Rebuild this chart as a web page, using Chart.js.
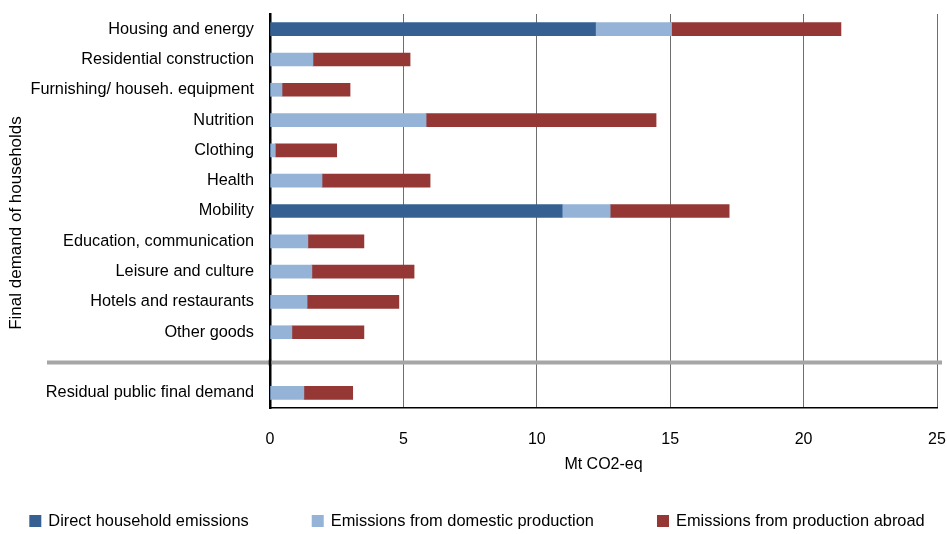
<!DOCTYPE html>
<html lang="en">

<head>
  <meta charset="UTF-8">
  <title>Emissions by final demand</title>
  <script src="https://cdn.jsdelivr.net/npm/chart.js"></script>
  <style>
    body {
      margin: 0;
      padding: 0;
      background: white;
    }

    .chart-box {
      width: 947px;
      height: 534px;
    }
  </style>
</head>

<body>
  <div class="chart-box">
    <canvas id="barCanvas"></canvas>
  </div>

  <script>
    // categories (index 11 is the blank slot where the separator goes)
    const categories = [
      'Housing and energy',
      'Residential construction',
      'Furnishing/ househ. equipment',
      'Nutrition',
      'Clothing',
      'Health',
      'Mobility',
      'Education, communication',
      'Leisure and culture',
      'Hotels and restaurants',
      'Other goods',
      '',
      'Residual public final demand'
    ];

    const directEmissions = [12.2, 0, 0, 0, 0, 0, 10.95, 0, 0, 0, 0, null, 0];
    const domesticProduction = [2.85, 1.61, 0.45, 5.85, 0.2, 1.95, 1.8, 1.42, 1.57, 1.39, 0.82, null, 1.27];
    const productionAbroad = [6.35, 3.64, 2.55, 8.62, 2.3, 4.05, 4.46, 2.1, 3.83, 3.44, 2.7, null, 1.83];

    const xTicks = [0, 5, 10, 15, 20, 25];

    const FONT = 'Liberation Sans, Arial, sans-serif';

    // grey separator, rotated y title and the legend row
    const extras = {
      id: 'extras',
      afterDatasetsDraw(chart) {
        const ctx = chart.ctx;
        const y = chart.scales.y.getPixelForValue(11);
        const x0 = chart.scales.x.getPixelForValue(0);
        ctx.save();
        ctx.strokeStyle = '#a6a6a6';
        ctx.lineWidth = 4;
        ctx.beginPath();
        ctx.moveTo(47, y);
        ctx.lineTo(942, y);
        ctx.stroke();
        // keep the zero axis on top
        ctx.strokeStyle = '#000';
        ctx.lineWidth = 2.5;
        ctx.beginPath();
        ctx.moveTo(x0, y - 3);
        ctx.lineTo(x0, y + 3);
        ctx.stroke();
        ctx.restore();

        ctx.save();
        ctx.translate(16, 223);
        ctx.rotate(-Math.PI / 2);
        ctx.fillStyle = '#000';
        ctx.font = '17px ' + FONT;
        ctx.textAlign = 'center';
        ctx.textBaseline = 'middle';
        ctx.fillText('Final demand of households', 0, 0);
        ctx.restore();

        // legend
        ctx.save();
        ctx.font = '16.4px ' + FONT;
        ctx.textBaseline = 'middle';
        ctx.textAlign = 'left';
        const sets = chart.data.datasets;
        const box = 12, gapText = 7, gapItem = 63;
        const widths = sets.map(d => box + gapText + ctx.measureText(d.label).width);
        const total = widths.reduce((a, b) => a + b, 0) + gapItem * (sets.length - 1);
        let lx = 477 - total / 2;
        const ly = 521;
        sets.forEach((d, i) => {
          ctx.fillStyle = d.backgroundColor;
          ctx.fillRect(lx, ly - box / 2, box, box);
          ctx.fillStyle = '#000';
          ctx.fillText(d.label, lx + box + gapText, ly);
          lx += widths[i] + gapItem;
        });
        ctx.restore();
      }
    };

    const ctx = document.getElementById('barCanvas').getContext('2d');

    new Chart(ctx, {
      type: 'bar',
      data: {
        labels: categories,
        datasets: [{
          label: 'Direct household emissions',
          data: directEmissions,
          backgroundColor: '#366092'
        }, {
          label: 'Emissions from domestic production',
          data: domesticProduction,
          backgroundColor: '#95b3d7'
        }, {
          label: 'Emissions from production abroad',
          data: productionAbroad,
          backgroundColor: '#953735'
        }]
      },
      options: {
        indexAxis: 'y',
        responsive: true,
        maintainAspectRatio: false,
        animation: false,
        datasets: {
          bar: {
            barThickness: 13
          }
        },
        layout: {
          padding: { top: 14, right: 10, bottom: 56, left: 0 }
        },
        plugins: {
          tooltip: { enabled: false },
          legend: { display: false }
        },
        scales: {
          x: {
            stacked: true,
            min: 0,
            max: 25,
            afterBuildTicks(scale) {
              scale.ticks = xTicks.map(v => ({ value: v }));
            },
            afterFit(scale) {
              scale.height = 70;
              scale.paddingLeft = 0;
              scale.paddingRight = 0;
            },
            grid: {
              drawTicks: false,
              color: (c) => c.tick && c.tick.value === 0 ? 'rgba(0,0,0,0)' : '#6e6e6e',
              lineWidth: 1
            },
            border: { color: '#000', width: 1.5 },
            ticks: {
              color: '#000',
              font: { family: FONT, size: 16 },
              padding: 22
            },
            title: {
              display: true,
              text: 'Mt CO2-eq',
              color: '#000',
              font: { family: FONT, size: 16 },
              padding: { top: 8 }
            }
          },
          y: {
            stacked: true,
            afterFit(scale) {
              scale.width = 270;
              scale.paddingTop = 0;
              scale.paddingBottom = 0;
            },
            grid: { display: false, drawTicks: false },
            border: { color: '#000', width: 2.5 },
            ticks: {
              color: '#000',
              font: { family: FONT, size: 16.3 },
              padding: 16,
              autoSkip: false
            }
          }
        }
      },
      plugins: [extras]
    });
  </script>

</body>

</html>
